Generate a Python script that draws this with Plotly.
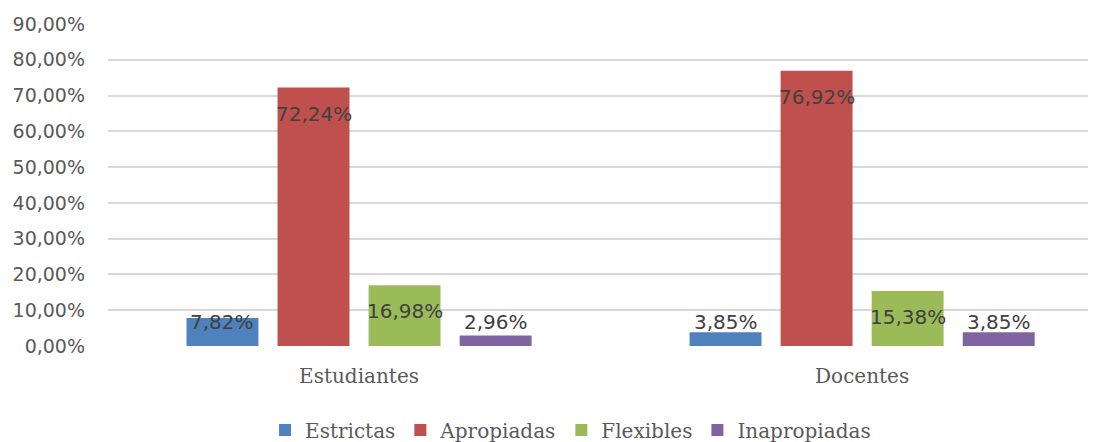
import plotly.graph_objects as go

# Categories and series values (percent)
categories = ["Estudiantes", "Docentes"]
series_names = ["Estrictas", "Apropiadas", "Flexibles", "Inapropiadas"]
estrictas = [7.82, 3.85]
apropiadas = [72.24, 76.92]
flexibles = [16.98, 15.38]
inapropiadas = [2.96, 3.85]
tick_values = [0, 10, 20, 30, 40, 50, 60, 70, 80, 90]
tick_labels = ["0,00%", "10,00%", "20,00%", "30,00%", "40,00%", "50,00%",
               "60,00%", "70,00%", "80,00%", "90,00%"]

colors = ["#4F81BD", "#C0504D", "#9BBB59", "#8064A2"]
values = [estrictas, apropiadas, flexibles, inapropiadas]

W, H = 1102, 442
margin = dict(l=108, r=14, t=24, b=96)
y_max = 90
px_per_unit = (H - margin["t"] - margin["b"]) / y_max
bargap = 0.276

fig = go.Figure()
x_pos = list(range(len(categories)))
for name, vals, col in zip(series_names, values, colors):
    fig.add_trace(go.Bar(
        x=x_pos, y=vals, name=name,
        marker=dict(color=col, line=dict(width=0)),
    ))

# Value labels: Excel-style, sitting just below the bar top, kept above the axis
n = len(series_names)
slot = (1 - bargap) / n
label_font = dict(family="DejaVu Sans", size=20, color="#404040")
for i, vals in enumerate(values):
    for j, v in enumerate(vals):
        xc = j - (1 - bargap) / 2 + slot * (i + 0.5)
        y_lab = max(v - 26 / px_per_unit, 24 / px_per_unit)
        fig.add_annotation(
            x=xc, y=y_lab, text=f"{v:.2f}%".replace(".", ","),
            showarrow=False, xanchor="center", yanchor="middle",
            font=label_font,
        )

fig.update_layout(
    width=W, height=H, margin=margin,
    paper_bgcolor="white", plot_bgcolor="white",
    barmode="group", bargap=bargap, bargroupgap=0.21,
    showlegend=True,
    legend=dict(orientation="h", x=0.472, xanchor="center",
                yref="container", y=12 / H, yanchor="middle",
                font=dict(family="DejaVu Serif", size=20, color="#595959"),
                itemwidth=30, tracegroupgap=0),
    xaxis=dict(
        range=[-0.499, 1.449], tickvals=x_pos, ticktext=categories,
        showgrid=False, zeroline=False, showline=False, ticks="",
        ticklabelstandoff=16, automargin=False,
        tickfont=dict(family="DejaVu Serif", size=20, color="#595959"),
    ),
    yaxis=dict(
        range=[0, y_max], tickvals=tick_values, ticktext=tick_labels,
        showgrid=True, gridcolor="#D9D9D9", gridwidth=1.5,
        zeroline=False, showline=False, ticks="",
        ticklabelstandoff=22, automargin=False,
        tickfont=dict(family="DejaVu Sans", size=19, color="#595959"),
    ),
)

fig.write_html("out.html")
